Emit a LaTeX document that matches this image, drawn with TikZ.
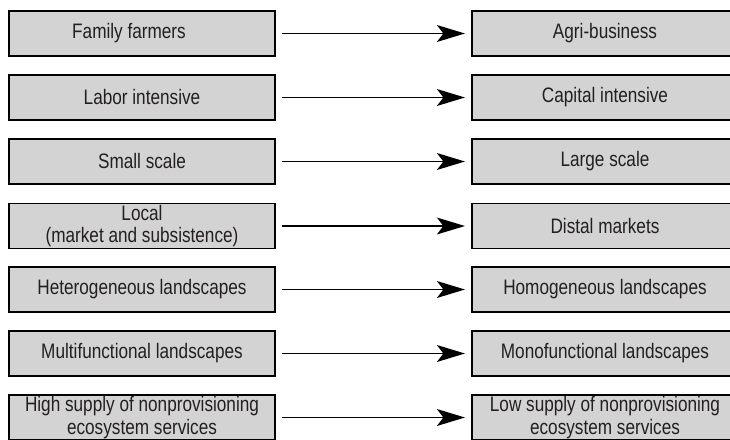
\documentclass[tikz,border=0pt]{standalone}
\usepackage{fontspec}
\setmainfont{Liberation Sans}[FakeStretch=0.82]
\usetikzlibrary{arrows.meta}
\definecolor{boxgray}{RGB}{211,211,211}
\definecolor{textblack}{RGB}{35,31,32}
\begin{document}
\begin{tikzpicture}[x=0.025cm, y=-0.025cm,
		trend/.style={rectangle, draw=black, line width=1.4pt, fill=boxgray, text=textblack,
			minimum width=6.65cm, minimum height=1.125cm, inner sep=0pt, align=center,
			font=\fontsize{14.9}{16.1}\selectfont},
		change/.style={-{Stealth[length=7mm, width=4.2mm, inset=1.6mm]}, line width=1.4pt,
			shorten <=0.15cm, shorten >=0.15cm}]
		\clip (0,0) rectangle (730,440);

		\node[trend] (l1) at (142,33.5) {Family farmers\hspace*{0.65cm}};
		\node[trend] (l2) at (142,97.5) {Labor intensive};
		\node[trend] (l3) at (142,161.5) {Small scale};
		\node[trend] (l4) at (142,226) {Local\\(market and subsistence)};
		\node[trend] (l5) at (142,289.5) {Heterogeneous landscapes};
		\node[trend] (l6) at (142,353.5) {Multifunctional landscapes};
		\node[trend] (l7) at (142,417.5) {High supply of nonprovisioning\\ecosystem services};

		\node[trend] (r1) at (605,33.5) {Agri-business};
		\node[trend] (r2) at (605,97.5) {Capital intensive};
		\node[trend] (r3) at (605,161.5) {Large scale};
		\node[trend] (r4) at (605,226) {Distal markets};
		\node[trend] (r5) at (605,289.5) {Homogeneous landscapes};
		\node[trend] (r6) at (605,353.5) {Monofunctional landscapes};
		\node[trend] (r7) at (605,417.5) {Low supply of nonprovisioning\\ecosystem services};

		\foreach \i in {1,...,7}
			\draw[change] (l\i) -- (r\i);

	\end{tikzpicture}
\end{document}
